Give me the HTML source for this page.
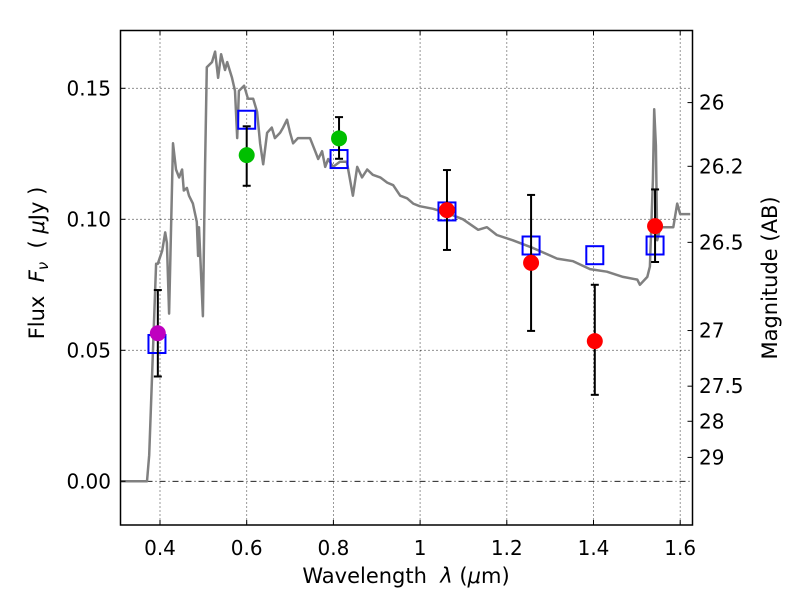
<!DOCTYPE html>
<html><head><meta charset="utf-8"><style>
html,body{margin:0;padding:0;background:#fff;}
svg{display:block;font-family:"DejaVu Sans","Liberation Sans",sans-serif;}
.pre{white-space:pre;}
</style></head><body>
<svg id="chart" width="800" height="600" viewBox="0 0 800 600" xmlns="http://www.w3.org/2000/svg">
<g id="grid"></g>
<g id="plot"></g>
<g id="axes"></g>
<text class="pre" x="406" y="583" font-size="21" text-anchor="middle">Wavelength  <tspan font-style="italic">λ</tspan> (<tspan font-style="italic">μ</tspan>m)</text>
<text class="pre" transform="translate(44,263) rotate(-90)" font-size="21" text-anchor="middle">Flux  <tspan font-style="italic">F</tspan><tspan font-style="italic" font-size="15" dy="4">ν</tspan><tspan dy="-4">  ( </tspan><tspan font-style="italic">μ</tspan>Jy )</text>
<text transform="translate(777,278) rotate(-90)" font-size="21" text-anchor="middle">Magnitude (AB)</text>
</svg>
<script>
const xTicks=[0.4,0.6,0.8,1.0,1.2,1.4,1.6];
const xTickLabels=["0.4","0.6","0.8","1","1.2","1.4","1.6"];
const yTicks=[0.00,0.05,0.10,0.15];
const yTickLabels=["0.00","0.05","0.10","0.15"];
const magTicks=[26,26.2,26.5,27,27.5,28,29];
const magTickLabels=["26","26.2","26.5","27","27.5","28","29"];
const specW=[0.308,0.370,0.375,0.391,0.395,0.405,0.412,0.416,0.421,0.430,0.437,0.444,0.451,0.455,0.462,0.467,0.476,0.485,0.488,0.490,0.499,0.504,0.508,0.520,0.527,0.534,0.541,0.550,0.555,0.566,0.573,0.578,0.582,0.594,0.603,0.615,0.624,0.631,0.638,0.647,0.658,0.665,0.677,0.684,0.693,0.700,0.707,0.718,0.735,0.746,0.758,0.765,0.774,0.781,0.788,0.799,0.815,0.831,0.845,0.855,0.866,0.878,0.891,0.908,0.924,0.938,0.954,0.970,0.984,0.999,1.030,1.069,1.099,1.134,1.154,1.177,1.214,1.261,1.316,1.353,1.392,1.431,1.468,1.501,1.507,1.524,1.530,1.537,1.540,1.544,1.547,1.554,1.570,1.584,1.593,1.600,1.623];
const specF=[0,0,0.010,0.083,0.083,0.088,0.095,0.091,0.064,0.129,0.119,0.116,0.119,0.111,0.112,0.109,0.106,0.099,0.086,0.097,0.063,0.121,0.158,0.160,0.164,0.154,0.163,0.157,0.160,0.154,0.149,0.131,0.149,0.151,0.146,0.146,0.141,0.129,0.121,0.133,0.135,0.131,0.133,0.135,0.138,0.133,0.129,0.131,0.131,0.131,0.126,0.123,0.126,0.120,0.123,0.120,0.122,0.122,0.109,0.120,0.116,0.119,0.117,0.116,0.114,0.113,0.109,0.108,0.106,0.105,0.104,0.102,0.100,0.096,0.097,0.094,0.092,0.089,0.085,0.084,0.081,0.080,0.078,0.077,0.075,0.078,0.082,0.115,0.142,0.128,0.092,0.097,0.097,0.097,0.106,0.102,0.102];
const modelW=[0.393,0.600,0.813,1.062,1.256,1.403,1.542];
const modelF=[0.0524,0.138,0.123,0.103,0.090,0.0863,0.090];
const obsW=[0.395,0.600,0.813,1.062,1.256,1.403,1.542];
const obsF=[0.0565,0.1245,0.1309,0.1035,0.0834,0.0535,0.0974];
const obsHi=[0.073,0.1355,0.139,0.1188,0.1093,0.075,0.1114];
const obsLo=[0.040,0.1128,0.1231,0.0883,0.0574,0.033,0.0837];
const obsColor=["#bf00bf","#00bf00","#00bf00","#ff0000","#ff0000","#ff0000","#ff0000"];

const L=120.5,R=692.5,T=30.5,B=525;
const X=w=>-13.4+433.5*w;
const Y=f=>481.3-2620*f;
const magToFlux=m=>Math.pow(10,(23.9-m)/2.5);
const NS="http://www.w3.org/2000/svg";
function mk(tag,parent,attrs){const e=document.createElementNS(NS,tag);for(const k in attrs)e.setAttribute(k,attrs[k]);parent.appendChild(e);return e;}
const grid=document.getElementById('grid'),plot=document.getElementById('plot'),axes=document.getElementById('axes');

xTicks.forEach((t,i)=>{
  const g=mk('line',grid,{x1:X(t),x2:X(t),y1:T,y2:B,stroke:'#000','stroke-width':0.8,'stroke-dasharray':'1,3'});
  
  
  const tk=mk('line',axes,{x1:X(t),x2:X(t),y1:B,y2:B-5,stroke:'#000','stroke-width':1});
  
  
  const tk2=mk('line',axes,{x1:X(t),x2:X(t),y1:T,y2:T+5,stroke:'#000','stroke-width':1});
  
  
  const tx=mk('text',axes,{x:X(t),y:555,'font-size':20,'text-anchor':'middle'});
  tx.textContent=xTickLabels[i];
  
  
});
yTicks.forEach((t,i)=>{
  const g=mk('line',grid,{x1:L,x2:R,y1:Y(t),y2:Y(t),stroke:'#000','stroke-width':0.8,'stroke-dasharray':t===0?'6,3,1,3':'1,3'});
  
  
  const tk=mk('line',axes,{x1:L,x2:L+5,y1:Y(t),y2:Y(t),stroke:'#000','stroke-width':1});
  
  
  const tx=mk('text',axes,{x:111,y:Y(t)+7,'font-size':20,'text-anchor':'end'});
  tx.textContent=yTickLabels[i];
  
  
});
magTicks.forEach((m,i)=>{
  const y=Y(magToFlux(m));
  const tk=mk('line',axes,{x1:R,x2:R-5,y1:y,y2:y,stroke:'#000','stroke-width':1});
  
  
  const tx=mk('text',axes,{x:699,y:y+7,'font-size':20});
  tx.textContent=magTickLabels[i];
  
  
});

const clip=mk('clipPath',plot,{id:'pc'});
mk('rect',clip,{x:L,y:T,width:R-L,height:B-T});
const pts=specW.map((w,i)=>X(w).toFixed(1)+','+Y(specF[i]).toFixed(1)).join(' ');
const sp=mk('polyline',plot,{points:pts,fill:'none',stroke:'#808080','stroke-width':2.5,'stroke-linejoin':'round','clip-path':'url(#pc)'});



modelW.forEach((w,i)=>{
  const r=mk('rect',plot,{x:X(w)-8.5,y:Y(modelF[i])-9,width:17,height:18,fill:'none',stroke:'#0000ff','stroke-width':2});
  
  
});
obsW.forEach((w,i)=>{
  const x=X(w);
  const e=mk('g',plot,{});
  
  
  mk('line',e,{x1:x,x2:x,y1:Y(obsHi[i]),y2:Y(obsLo[i]),stroke:'#000','stroke-width':2});
  mk('line',e,{x1:x-4,x2:x+4,y1:Y(obsHi[i]),y2:Y(obsHi[i]),stroke:'#000','stroke-width':2});
  mk('line',e,{x1:x-4,x2:x+4,y1:Y(obsLo[i]),y2:Y(obsLo[i]),stroke:'#000','stroke-width':2});
  const c=mk('circle',plot,{cx:x,cy:Y(obsF[i]),r:8,fill:obsColor[i]});
  
  
});
const fr=mk('rect',axes,{x:L,y:T,width:R-L,height:B-T,fill:'none',stroke:'#000','stroke-width':1.5});


</script>
</body></html>
